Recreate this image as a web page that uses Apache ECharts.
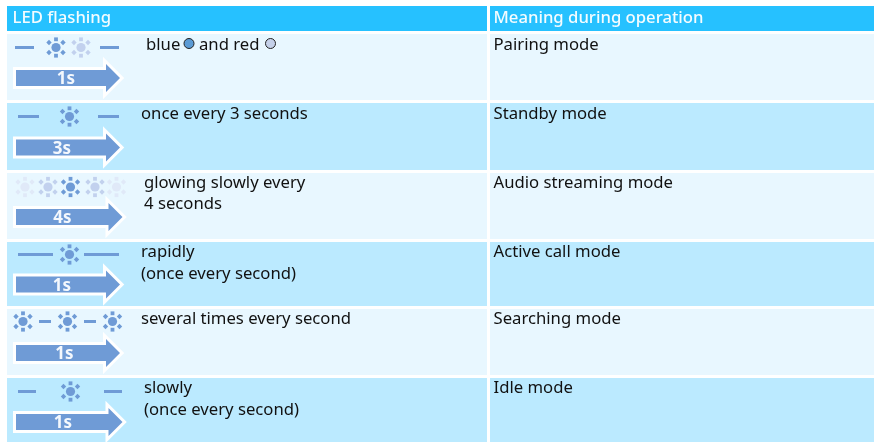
<!DOCTYPE html>
<html>
<head>
<meta charset="utf-8">
<style>
  html, body { margin: 0; padding: 0; background: #fff; }
  #main { width: 874px; height: 442px; }
</style>
</head>
<body>
<div id="main"></div>
<script src="https://cdn.jsdelivr.net/npm/echarts@6/dist/echarts.min.js"></script>
<script>
// table content
const headers = ['LED flashing', 'Meaning during operation']
const durations = ['1s', '3s', '4s', '1s', '1s', '1s']
const meanings = ['Pairing mode', 'Standby mode', 'Audio streaming mode', 'Active call mode', 'Searching mode', 'Idle mode']
const descriptions = [
  ['blue', 'and red'],
  ['once every 3 seconds'],
  ['glowing slowly every', '4 seconds'],
  ['rapidly', '(once every second)'],
  ['several times every second'],
  ['slowly', '(once every second)']
]
// LED pattern of each row: d = dash, 1 = full led, p = pale led, f = faint led
const patterns = [
  ['d', '1', 'p', 'd'],
  ['d', '1', 'd'],
  ['f', 'p', '1', 'p', 'f'],
  ['d', '1', 'd'],
  ['1', 'd', '1', 'd', '1'],
  ['d', '1', 'd']
]

// layout, in pixels of the page
const rowTop = [34, 103, 173, 242, 309, 378]
const rowBottom = [100, 170, 239, 306, 375, 442]
const patternY = [47.5, 116.5, 187, 254.5, 321.5, 391.5]
const patternX = [
  [[15, 34], 56, 81, [100, 119]],
  [[18, 39], 69.5, [98, 119]],
  [25, 48, 70.5, 95, 116.5],
  [[18, 53], 69.5, [84, 119]],
  [23, [39, 51], 67.5, [84, 96], 112.5],
  [[18, 36], 70.5, [104, 122]]
]
const arrowY = [78, 147.5, 217, 284.5, 353, 422]
const arrowTip = [120, 120, 122.5, 120, 120, 122.5]
const durationX = [66, 62, 62.5, 62, 64.5, 63]
const textX = [146, 141, 144, 141, 141, 144]
const textY = [[45], [114.5], [183.5], [252.5], [319.5], [388.5]]
const textY2 = [0, 0, 204.5, 274.5, 0, 410.5]
const colLeft = [7, 490]
const colRight = [487, 874]
const headerX = [12.5, 493.5]
const font = '"Noto Sans", sans-serif'
const textSize = 16.7

const colors = { header: '#26c1ff', light: '#e8f7ff', dark: '#bbeaff', led: '#6f9bd6', ink: '#111' }
const ledColor = { 1: '#6f9bd6', p: '#c2d1ee', f: '#e0e9f8' }

const chartInstance = echarts.init(document.getElementById('main'))

// one hidden pixel grid, everything goes through api.coord
const rect = (api, x0, y0, x1, y1, fill) => {
  const a = api.coord([x0, y0])
  const b = api.coord([x1, y1])
  return { type: 'rect', shape: { x: a[0], y: a[1], width: b[0] - a[0], height: b[1] - a[1] }, style: { fill } }
}
const label = (api, text, x, y, size, fill, weight, align) => {
  const p = api.coord([x, y])
  return {
    type: 'text',
    x: p[0],
    y: p[1],
    style: { text, fill, font: `${weight || 400} ${size}px ${font}`, textAlign: align || 'left', textVerticalAlign: 'middle' }
  }
}
const led = (api, x, y, fill) => {
  const c = api.coord([x, y])
  const children = [{ type: 'circle', shape: { cx: c[0], cy: c[1], r: 4.6 }, style: { fill } }]
  // square rays above and below, small diamonds on the diagonals
  const rays = [[0, -8.2], [0, 8.2], [-7, -5], [7, -5], [-7, 5], [7, 5]]
  rays.forEach(([dx, dy]) => {
    children.push({
      type: 'rect',
      x: c[0] + dx,
      y: c[1] + dy,
      rotation: dx === 0 ? 0 : Math.PI / 4,
      shape: { x: -1.9, y: -1.9, width: 3.8, height: 3.8 },
      style: { fill }
    })
  })
  return { type: 'group', children }
}
const arrowPoints = (api, tipX, y) => [
  [16, y - 8], [tipX - 14, y - 8], [tipX - 14, y - 14], [tipX, y],
  [tipX - 14, y + 14], [tipX - 14, y + 8], [16, y + 8]
].map(p => api.coord(p))

const rowIndexes = meanings.map((m, i) => [i])

const renderCells = (params, api) => {
  const i = api.value(0)
  const fill = i % 2 === 0 ? colors.light : colors.dark
  return {
    type: 'group',
    children: colLeft.map((x, c) => rect(api, x, rowTop[i], colRight[c], rowBottom[i], fill))
  }
}
const renderHeader = (params, api) => {
  const c = api.value(0)
  return {
    type: 'group',
    children: [
      rect(api, colLeft[c], 6, colRight[c], 31, colors.header),
      label(api, headers[c], headerX[c], 18.5, textSize, '#f4fcff', 500)
    ]
  }
}
const renderPattern = (params, api) => {
  const i = api.value(0)
  const y = patternY[i]
  return {
    type: 'group',
    children: patterns[i].map((kind, k) => {
      const x = patternX[i][k]
      return kind === 'd'
        ? rect(api, x[0], y - 1.5, x[1], y + 1.5, colors.led)
        : led(api, x, y, ledColor[kind])
    })
  }
}
const renderArrow = (params, api) => {
  const i = api.value(0)
  const points = arrowPoints(api, arrowTip[i], arrowY[i])
  return {
    type: 'group',
    children: [
      { type: 'polygon', shape: { points }, style: { fill: '#fff', stroke: '#fff', lineWidth: 6, lineJoin: 'miter' } },
      { type: 'polygon', shape: { points }, style: { fill: colors.led } },
      label(api, durations[i], durationX[i], arrowY[i] + 1.5, 17, '#f4f8fd', 700, 'center')
    ]
  }
}
const renderText = (params, api) => {
  const i = api.value(0)
  const children = []
  if (i === 0) {
    // the first row has two coloured dots inside the sentence
    children.push(label(api, descriptions[0][0], textX[0], textY[0][0], textSize, colors.ink))
    children.push(label(api, descriptions[0][1], 199, textY[0][0], textSize, colors.ink))
    const dots = [[189, '#5b9bd5'], [270.5, '#c5d1ea']]
    dots.forEach(([x, fill]) => {
      const c = api.coord([x, 43.5])
      children.push({ type: 'circle', shape: { cx: c[0], cy: c[1], r: 5, }, style: { fill, stroke: '#222', lineWidth: 1 } })
    })
  } else {
    children.push(label(api, descriptions[i][0], textX[i], textY[i][0], textSize, colors.ink))
    if (descriptions[i][1]) {
      children.push(label(api, descriptions[i][1], textX[i], textY2[i], textSize, colors.ink))
    }
  }
  children.push(label(api, meanings[i], 493.5, textY[i][0], textSize, colors.ink))
  return { type: 'group', children }
}

const custom = (renderItem, data) => ({ type: 'custom', renderItem, data, silent: true, clip: false })

chartInstance.setOption({
  animation: false,
  backgroundColor: '#fff',
  grid: { left: 0, right: 0, top: 0, bottom: 0 },
  xAxis: { type: 'value', min: 0, max: 874, show: false },
  yAxis: { type: 'value', min: 0, max: 442, inverse: true, show: false },
  series: [
    custom(renderCells, rowIndexes),
    custom(renderHeader, headers.map((h, i) => [i])),
    custom(renderPattern, rowIndexes),
    custom(renderArrow, rowIndexes),
    custom(renderText, rowIndexes)
  ]
})
</script>
</body>
</html>
